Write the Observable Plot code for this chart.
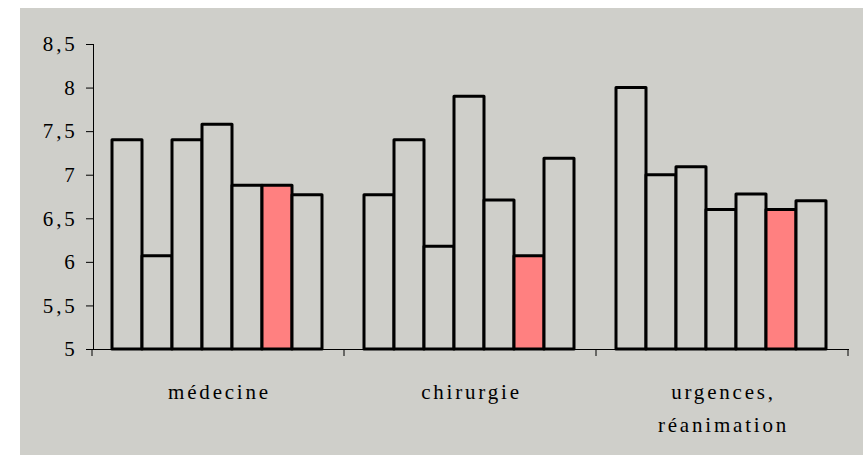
<!DOCTYPE html>
<html>
<head>
<meta charset="utf-8">
<script src="https://cdn.jsdelivr.net/npm/d3@7"></script>
<script src="https://cdn.jsdelivr.net/npm/@observablehq/plot@0.6"></script>
<style>
  html, body { margin: 0; padding: 0; background: #ffffff; width: 863px; height: 455px; overflow: hidden; }
  #chart { position: absolute; left: 20px; top: 8px; }
</style>
</head>
<body>
<div id="chart"></div>
<script>
// ---- data ----
const categories = ["médecine", "chirurgie", "urgences,\nréanimation"];
const series = ["s1", "s2", "s3", "s4", "s5", "s6", "s7"];
const highlightSeries = "s6";
const medecine  = [7.4, 6.07, 7.4, 7.58, 6.88, 6.88, 6.77];
const chirurgie = [6.77, 7.4, 6.18, 7.9, 6.71, 6.07, 7.19];
const urgences  = [8.0, 7.0, 7.09, 6.6, 6.78, 6.6, 6.7];
const yTicks = [5, 5.5, 6, 6.5, 7, 7.5, 8, 8.5];

const valuesByCategory = [medecine, chirurgie, urgences];
const data = categories.flatMap((c, i) =>
  series.map((s, j) => ({category: c, series: s, value: valuesByCategory[i][j]})));

const panel = "#cfcfca";
const red = "#ff8080";
const yMin = yTicks[0], yMax = yTicks[yTicks.length - 1];

const chart = Plot.plot({
  width: 843,
  height: 447,
  marginLeft: 72,
  marginRight: 14,
  marginTop: 36,
  marginBottom: 106,
  style: {
    background: panel,
    color: "#000",
    fontFamily: "'Liberation Serif', 'Times New Roman', serif",
    fontSize: "21px",
    letterSpacing: "2.8px",
    overflow: "visible"
  },
  fx: {domain: categories, padding: 0, axis: null},
  x: {domain: series, paddingInner: 0, paddingOuter: 0.69, align: 0.46, axis: null},
  y: {
    domain: [yMin, yMax],
    ticks: yTicks,
    tickFormat: d => String(d).replace(".", ","),
    tickSize: 7,
    tickPadding: 9,
    line: true,
    label: null
  },
  marks: [
    Plot.ruleY([yMin], {stroke: "#000", strokeWidth: 1}),
    Plot.barY(data, {
      fx: "category",
      x: "series",
      y1: () => yMin,
      y2: "value",
      fill: d => d.series === highlightSeries ? red : panel,
      stroke: "#000",
      strokeWidth: 3,
      strokeLinejoin: "round"
    }),
    Plot.text(categories, {
      fx: d => d,
      text: d => d,
      frameAnchor: "bottom",
      lineAnchor: "top",
      dy: 26,
      lineHeight: 1.58,
      fontSize: 21,
      letterSpacing: "3.4px"
    })
  ]
});

// ticks at category boundaries, from the library's own scales
const fxs = chart.scale("fx");
const ys = chart.scale("y");
const y0 = ys.range[0];
const step = fxs.step !== undefined ? fxs.step : (fxs.range[1] - fxs.range[0]) / categories.length;
const bounds = d3.range(categories.length + 1).map(i => fxs.range[0] + i * step);
d3.select(chart).append("g")
  .attr("stroke", "#000")
  .attr("stroke-width", 1)
  .selectAll("line")
  .data(bounds)
  .join("line")
  .attr("x1", d => d).attr("x2", d => d)
  .attr("y1", y0).attr("y2", y0 + 7);

document.getElementById("chart").appendChild(chart);
</script>
</body>
</html>
